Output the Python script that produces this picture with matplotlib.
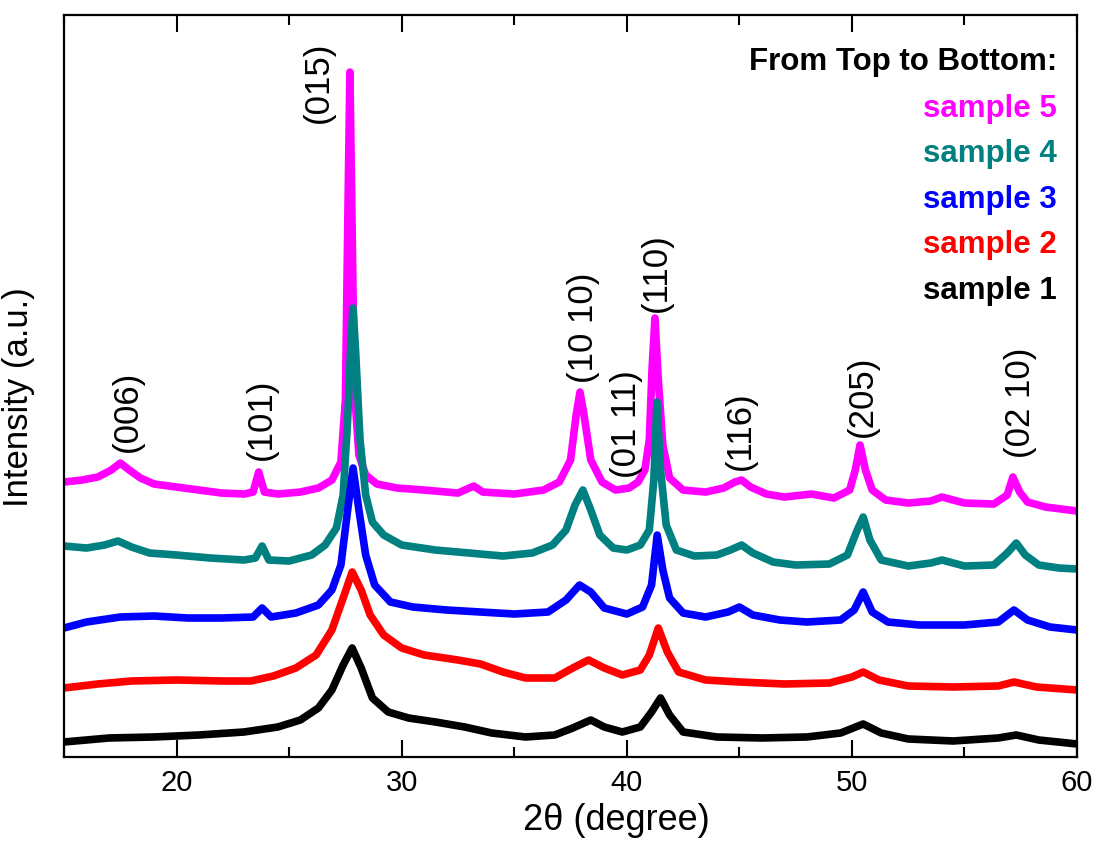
import matplotlib
matplotlib.use('Agg')
import matplotlib.pyplot as plt
from matplotlib.ticker import MultipleLocator

plt.rcParams['font.family'] = ['Liberation Sans', 'DejaVu Sans']

# XRD patterns: 2theta (degree) and intensity (a.u., stacked)
tt5 = [15.0, 15.8, 16.5, 17.1, 17.5, 17.9, 18.4, 19.0, 20.0, 21.0, 22.0, 23.0, 23.4, 23.65, 23.9,
       24.5, 25.5, 26.3, 26.9, 27.3, 27.5, 27.62, 27.7, 27.78, 27.9, 28.1, 28.4, 28.9, 29.8, 31.0,
       32.5, 33.2, 33.6, 35.0, 36.3, 37.0, 37.5, 37.75, 37.92, 38.1, 38.4, 38.9, 39.5, 40.1, 40.5,
       40.8, 41.0, 41.12, 41.25, 41.4, 41.6, 41.9, 42.5, 43.5, 44.3, 44.8, 45.1, 45.5, 46.2, 47.0,
       48.2, 49.2, 49.9, 50.15, 50.36, 50.6, 50.9, 51.5, 52.5, 53.5, 54.0, 55.0, 56.3, 56.9, 57.15,
       57.45, 57.8, 58.6, 59.3, 60.0]
s5 = [275, 277, 280, 287, 294, 287, 279, 273, 270, 267, 264, 263, 265, 285, 265,
      263, 265, 269, 277, 295, 357, 557, 685, 557, 367, 302, 282, 273, 269, 267,
      264, 271, 265, 263, 267, 275, 297, 342, 365, 342, 297, 275, 267, 269, 275,
      287, 317, 387, 439, 377, 312, 279, 267, 265, 269, 275, 277, 270, 263, 260,
      263, 259, 267, 287, 312, 287, 267, 257, 254, 256, 260, 254, 253, 262, 280,
      265, 255, 250, 248, 246]

tt4 = [15.0, 16.0, 16.8, 17.4, 18.0, 18.8, 20.0, 21.5, 23.0, 23.5, 23.8, 24.1, 25.0, 26.0, 26.6,
       27.1, 27.4, 27.6, 27.75, 27.84, 27.95, 28.15, 28.4, 28.7, 29.2, 30.0, 31.5, 33.0, 34.5, 35.8,
       36.7, 37.3, 37.7, 38.05, 38.4, 38.8, 39.4, 40.0, 40.6, 41.0, 41.2, 41.34, 41.5, 41.75, 42.2,
       43.0, 44.0, 44.6, 45.1, 45.6, 46.5, 47.5, 49.0, 49.8, 50.2, 50.5, 50.8, 51.3, 52.5, 53.5,
       54.0, 55.0, 56.3, 56.9, 57.3, 57.7, 58.3, 59.2, 60.0]
s4 = [211, 209, 212, 216, 210, 204, 202, 199, 197, 199, 211, 197, 196, 202, 212,
      229, 262, 337, 417, 449, 407, 317, 262, 235, 222, 212, 207, 204, 201, 204,
      212, 227, 252, 267, 247, 222, 209, 207, 212, 227, 277, 355, 287, 232, 207,
      201, 202, 207, 212, 204, 195, 192, 193, 202, 225, 240, 217, 197, 191, 194,
      197, 191, 192, 204, 214, 202, 192, 189, 188]

tt3 = [15.0, 16.0, 17.5, 19.0, 20.5, 22.0, 23.4, 23.8, 24.2, 25.3, 26.3, 26.9, 27.3, 27.6, 27.84,
       28.1, 28.4, 28.8, 29.5, 30.5, 32.0, 33.5, 35.0, 36.5, 37.3, 37.9, 38.4, 39.0, 40.0, 40.7,
       41.1, 41.35, 41.6, 41.9, 42.5, 43.5, 44.5, 45.0, 45.6, 46.8, 48.0, 49.5, 50.1, 50.5, 50.9,
       51.6, 53.0, 55.0, 56.5, 57.2, 57.8, 58.8, 60.0]
s3 = [129, 135, 140, 141, 139, 139, 140, 149, 140, 144, 152, 167, 192, 247, 289,
      247, 202, 172, 155, 150, 147, 145, 143, 145, 157, 172, 165, 149, 143, 150,
      172, 222, 187, 159, 144, 140, 145, 150, 142, 137, 135, 137, 147, 165, 145,
      135, 132, 132, 135, 147, 137, 130, 127]

tt2 = [15.0, 16.5, 18.0, 20.0, 22.0, 23.3, 24.3, 25.3, 26.2, 26.9, 27.4, 27.8, 28.2, 28.6, 29.2,
       30.0, 31.0, 32.5, 33.5, 34.5, 35.5, 36.8, 37.6, 38.3, 39.0, 39.8, 40.6, 41.0, 41.4, 41.8,
       42.3, 43.5, 45.0, 47.0, 49.0, 50.0, 50.5, 51.2, 52.5, 54.5, 56.5, 57.2, 58.2, 60.0]
s2 = [69, 73, 76, 77, 76, 76, 81, 89, 102, 127, 159, 185, 167, 142, 122,
      109, 102, 97, 93, 85, 79, 79, 89, 97, 89, 82, 87, 102, 129, 105,
      85, 77, 75, 73, 74, 80, 85, 77, 71, 70, 71, 75, 70, 67]

tt1 = [15.0, 17.0, 19.0, 21.0, 23.0, 24.5, 25.5, 26.3, 26.9, 27.4, 27.8, 28.2, 28.7, 29.4, 30.3,
       31.5, 32.8, 34.0, 35.5, 36.8, 37.6, 38.4, 39.0, 39.8, 40.6, 41.1, 41.5, 41.9, 42.5, 44.0,
       46.0, 48.0, 49.5, 50.5, 51.3, 52.5, 54.5, 56.5, 57.3, 58.3, 60.0]
s1 = [15, 19, 20, 22, 25, 30, 37, 49, 67, 92, 109, 89, 59, 45, 39,
      35, 30, 24, 20, 22, 29, 37, 30, 25, 30, 45, 59, 42, 25, 20,
      19, 20, 24, 33, 24, 18, 16, 19, 22, 17, 13]

names = ['sample 5', 'sample 4', 'sample 3', 'sample 2', 'sample 1']
colors = ['#FF00FF', '#008080', '#0000FF', '#FF0000', '#000000']

# peak indexing labels
hkl = ['(006)', '(101)', '(015)', '(10 10)', '(01 11)', '(110)', '(116)', '(205)', '(02 10)']
hkl_x = [17.8, 23.75, 26.28, 38.06, 39.97, 41.3, 45.03, 50.45, 57.47]
hkl_y = [305, 297, 634, 374, 279, 445, 287, 320, 299]

fig = plt.figure(figsize=(10.96, 8.44), dpi=100)
ax = fig.add_axes([0.0584, 0.1031, 0.9243, 0.879])

for tt, s, c in zip([tt5, tt4, tt3, tt2, tt1], [s5, s4, s3, s2, s1], colors):
    ax.plot(tt, s, color=c, lw=5.5, solid_joinstyle='round')

for lab, x, y in zip(hkl, hkl_x, hkl_y):
    ax.text(x, y, lab, rotation=90, ha='center', va='bottom', fontsize=25)

ax.text(0.98, 0.937, 'From Top to Bottom:', transform=ax.transAxes, ha='right', va='center',
        fontsize=22.5, fontweight='bold')
for i, (n, c) in enumerate(zip(names, colors)):
    ax.text(0.98, 0.874 - i * 0.0615, n, transform=ax.transAxes, ha='right', va='center',
            fontsize=22.5, fontweight='bold', color=c)

ax.set_xlim(15, 60)
ax.set_ylim(0, 742)
ax.set_xticks([20, 30, 40, 50, 60])
ax.xaxis.set_minor_locator(MultipleLocator(5))
ax.set_yticks([])
ax.tick_params(axis='x', which='both', direction='in', top=True, labelsize=21, pad=9, width=1.5)
ax.tick_params(axis='x', which='major', length=12)
ax.tick_params(axis='x', which='minor', length=7)
for sp in ax.spines.values():
    sp.set_linewidth(1.6)

ax.set_xlabel('2θ (degree)', fontsize=26)
ax.xaxis.set_label_coords(0.545, -0.062)
ax.set_ylabel('Intensity (a.u.)', fontsize=25)
ax.yaxis.set_label_coords(-0.0285, 0.485)

fig.savefig('out.png', dpi=100)
